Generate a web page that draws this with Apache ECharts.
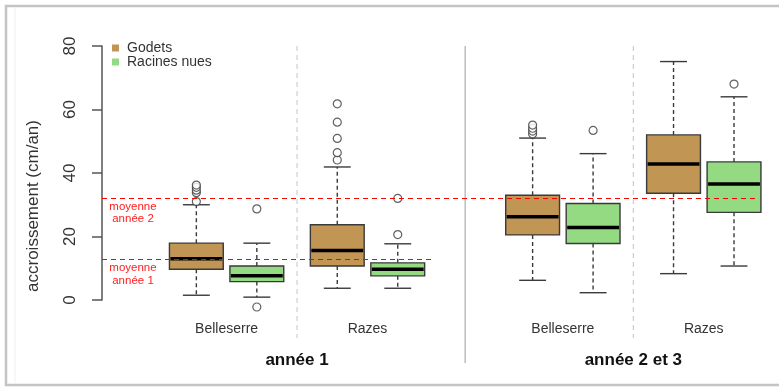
<!DOCTYPE html>
<html>
<head>
<meta charset="utf-8">
<script src="https://cdn.jsdelivr.net/npm/echarts@6/dist/echarts.min.js"></script>
<style>
  html, body { margin: 0; padding: 0; background: #ffffff; }
  #chart { width: 779px; height: 387px; }
</style>
</head>
<body>
<div id="chart"></div>
<script>
// Growth of planted trees, by period, site and planting type
const periods = ['année 1', 'année 2 et 3'];
const sites = ['Belleserre', 'Razes'];
const plantTypes = ['Godets', 'Racines nues'];
const yTicks = [0, 20, 40, 60, 80];
const yTitle = 'accroissement (cm/an)';

// Box statistics [min, Q1, median, Q3, max], ordered (année 1: Belleserre, Razes), (année 2 et 3: Belleserre, Razes)
const godetsStats = [
  [1.5, 9.7, 13.0, 17.9, 30.0],
  [3.7, 10.7, 15.6, 23.7, 41.9],
  [6.2, 20.5, 26.2, 33.0, 51.0],
  [8.3, 33.6, 42.8, 52.0, 75.1]
];
const racinesStats = [
  [0.9, 5.8, 7.6, 10.7, 17.9],
  [3.7, 7.6, 9.7, 11.7, 17.7],
  [2.3, 17.8, 22.8, 30.4, 46.1],
  [10.7, 27.6, 36.5, 43.5, 64.0]
];
const godetsOutliers = [
  [31.0, 33.8, 34.6, 35.5, 36.2],
  [44.1, 46.4, 50.9, 56.0, 61.8],
  [52.3, 53.2, 54.1, 55.1],
  []
];
const racinesOutliers = [
  [28.7, -2.2],
  [20.6, 32.0],
  [53.4],
  [68.0]
];
// Mean growth per period
const periodMeans = [12.7, 32.1];
const meanLabels = [['moyenne', 'année 1'], ['moyenne', 'année 2']];

// ---- layout helpers ----
const FONT = '"Liberation Sans", Arial, sans-serif';
const COLORS = ['#C19554', '#94DA82'];
const STROKE = '#3a3a3a';
const MEAN_COLOR = '#FF0000';
const BOX_W = 0.89;          // box width in x units
const PERIOD_STEP = 5.56;    // x distance between periods
const SITE_STEP = 2.33;      // x distance between sites
const X_MIN = -0.56, X_MAX = 10.27;

function boxPos(p, s, t) { return 1 + p * PERIOD_STEP + s * SITE_STEP + t; }

function boxRows(stats, t) {
  const rows = [];
  stats.forEach((st, k) => {
    const p = Math.floor(k / 2), s = k % 2;
    rows.push([boxPos(p, s, t)].concat(st));
  });
  return rows;
}
function outlierRows(outs, t) {
  const rows = [];
  outs.forEach((list, k) => {
    const p = Math.floor(k / 2), s = k % 2;
    list.forEach(v => rows.push([boxPos(p, s, t), v]));
  });
  return rows;
}

function renderBox(params, api) {
  const x = api.value(0);
  const vals = [1, 2, 3, 4, 5].map(i => api.coord([x, api.value(i)])[1]);
  const [yMin, yQ1, yMed, yQ3, yMax] = vals;
  const cx = api.coord([x, 0])[0];
  const half = api.size([BOX_W, 0])[0] / 2;
  const cap = half / 2;
  const color = api.visual('color');
  const dash = { stroke: STROKE, lineWidth: 1.4, lineDash: [4, 3] };
  const solid = { stroke: STROKE, lineWidth: 1.4 };
  return {
    type: 'group',
    children: [
      { type: 'line', shape: { x1: cx, y1: yQ3, x2: cx, y2: yMax }, style: dash },
      { type: 'line', shape: { x1: cx, y1: yQ1, x2: cx, y2: yMin }, style: dash },
      { type: 'line', shape: { x1: cx - cap, y1: yMax, x2: cx + cap, y2: yMax }, style: solid },
      { type: 'line', shape: { x1: cx - cap, y1: yMin, x2: cx + cap, y2: yMin }, style: solid },
      { type: 'rect', shape: { x: cx - half, y: yQ3, width: 2 * half, height: yQ1 - yQ3 },
        style: { fill: color, stroke: STROKE, lineWidth: 1.4 } },
      { type: 'line', shape: { x1: cx - half + 1, y1: yMed, x2: cx + half - 1, y2: yMed },
        style: { stroke: '#000', lineWidth: 3.5 } }
    ]
  };
}

const statsByType = [godetsStats, racinesStats];
const outByType = [godetsOutliers, racinesOutliers];

const series = [];
plantTypes.forEach((name, t) => {
  series.push({
    name: name,
    type: 'custom',
    renderItem: renderBox,
    itemStyle: { color: COLORS[t] },
    encode: { x: 0, y: [1, 2, 3, 4, 5] },
    data: boxRows(statsByType[t], t),
    silent: true
  });
});
plantTypes.forEach((name, t) => {
  series.push({
    name: name,
    type: 'scatter',
    clip: false,
    symbol: 'circle',
    symbolSize: 8,
    itemStyle: { color: '#ffffff', borderColor: STROKE, borderWidth: 1.2 },
    data: outlierRows(outByType[t], t),
    silent: true
  });
});
// dashed mean lines: année 1 spans its own period, année 2 the whole plot
const meanEnds = [4.91, X_MAX];
series.push({
  type: 'line',
  data: [],
  silent: true,
  itemStyle: { color: MEAN_COLOR },
  lineStyle: { color: MEAN_COLOR },
  markLine: {
    symbol: ['none', 'none'],
    silent: true,
    label: { show: false },
    lineStyle: { color: MEAN_COLOR, type: [5, 4], width: 1.2, opacity: 1 },
    data: periodMeans.map((m, i) => [
      { coord: [X_MIN, m], lineStyle: { color: MEAN_COLOR } },
      { coord: [meanEnds[i], m] }
    ])
  }
});

const chart = echarts.init(document.getElementById('chart'), null, { renderer: 'canvas' });
chart.setOption({
  animation: false,
  backgroundColor: '#ffffff',
  textStyle: { fontFamily: FONT },
  grid: { left: 102, right: 22, top: 46, bottom: 87 },
  legend: {
    data: plantTypes,
    orient: 'vertical',
    left: 107,
    top: 36,
    icon: 'rect',
    itemWidth: 7,
    itemHeight: 7,
    itemGap: 0,
    textStyle: { fontFamily: FONT, fontSize: 14, color: '#333', lineHeight: 13.5, padding: [0, 0, 0, 3] }
  },
  xAxis: { type: 'value', min: X_MIN, max: X_MAX, show: false },
  yAxis: {
    type: 'value',
    min: yTicks[0],
    max: yTicks[yTicks.length - 1],
    interval: 20,
    splitLine: { show: false },
    axisLine: { show: true, onZero: false, lineStyle: { color: '#555', width: 1.5 } },
    axisTick: { show: true, length: 10, lineStyle: { color: '#555', width: 1.5 } },
    axisLabel: { rotate: 90, fontSize: 17, color: '#333', margin: 23, fontFamily: FONT }
  },
  series: series
});

// ---- annotations drawn from axis positions ----
const toPx = (x, y) => chart.convertToPixel({ gridIndex: 0 }, [x, y]);
const graphics = [];
const yTop = toPx(0, 80)[1];

// frame
graphics.push({ type: 'rect', shape: { x: 6, y: 6, width: 790, height: 379 },
  style: { fill: 'none', stroke: '#C4C4C4', lineWidth: 2.5 }, silent: true });
graphics.push({ type: 'line', shape: { x1: 15, y1: 8, x2: 15, y2: 384 },
  style: { stroke: '#F0F0F0', lineWidth: 1 }, silent: true });

// separators between sites (dashed) and between periods (solid)
periods.forEach((_, p) => {
  const xs = (boxPos(p, 0, 1) + boxPos(p, 1, 0)) / 2;
  const px = toPx(xs, 0)[0];
  graphics.push({ type: 'line', shape: { x1: px, y1: yTop, x2: px, y2: 338 },
    style: { stroke: '#CFCFCF', lineWidth: 1.2, lineDash: [5, 4] }, silent: true });
});
{
  const xs = (boxPos(0, 1, 1) + boxPos(1, 0, 0)) / 2;
  const px = toPx(xs, 0)[0];
  graphics.push({ type: 'line', shape: { x1: px, y1: yTop, x2: px, y2: 363 },
    style: { stroke: '#BDBDBD', lineWidth: 1.5 }, silent: true });
}

// site and period labels
periods.forEach((per, p) => {
  sites.forEach((site, s) => {
    const xc = (boxPos(p, s, 0) + boxPos(p, s, 1)) / 2;
    graphics.push({ type: 'text', x: toPx(xc, 0)[0], y: 329, silent: true,
      style: { text: site, font: '14px ' + FONT, fill: '#333', align: 'center', verticalAlign: 'middle' } });
  });
  const xc = (boxPos(p, 0, 0) + boxPos(p, 1, 1)) / 2;
  graphics.push({ type: 'text', x: toPx(xc, 0)[0], y: 360, silent: true,
    style: { text: per, font: 'bold 17px ' + FONT, fill: '#111', align: 'center', verticalAlign: 'middle' } });
});

// mean labels under each red line
periodMeans.forEach((m, i) => {
  const py = toPx(0, m)[1];
  graphics.push({ type: 'text', x: 133, y: py + 2, silent: true,
    style: { text: meanLabels[i].join('\n'), font: '11.5px ' + FONT, lineHeight: 12.5,
      fill: '#FF2020', align: 'center', verticalAlign: 'top' } });
});

// y axis title
graphics.push({ type: 'text', x: 33, y: 206, rotation: Math.PI / 2, silent: true,
  style: { text: yTitle, font: '17px ' + FONT, fill: '#333', align: 'center', verticalAlign: 'middle' } });

chart.setOption({ graphic: graphics });
</script>
</body>
</html>
